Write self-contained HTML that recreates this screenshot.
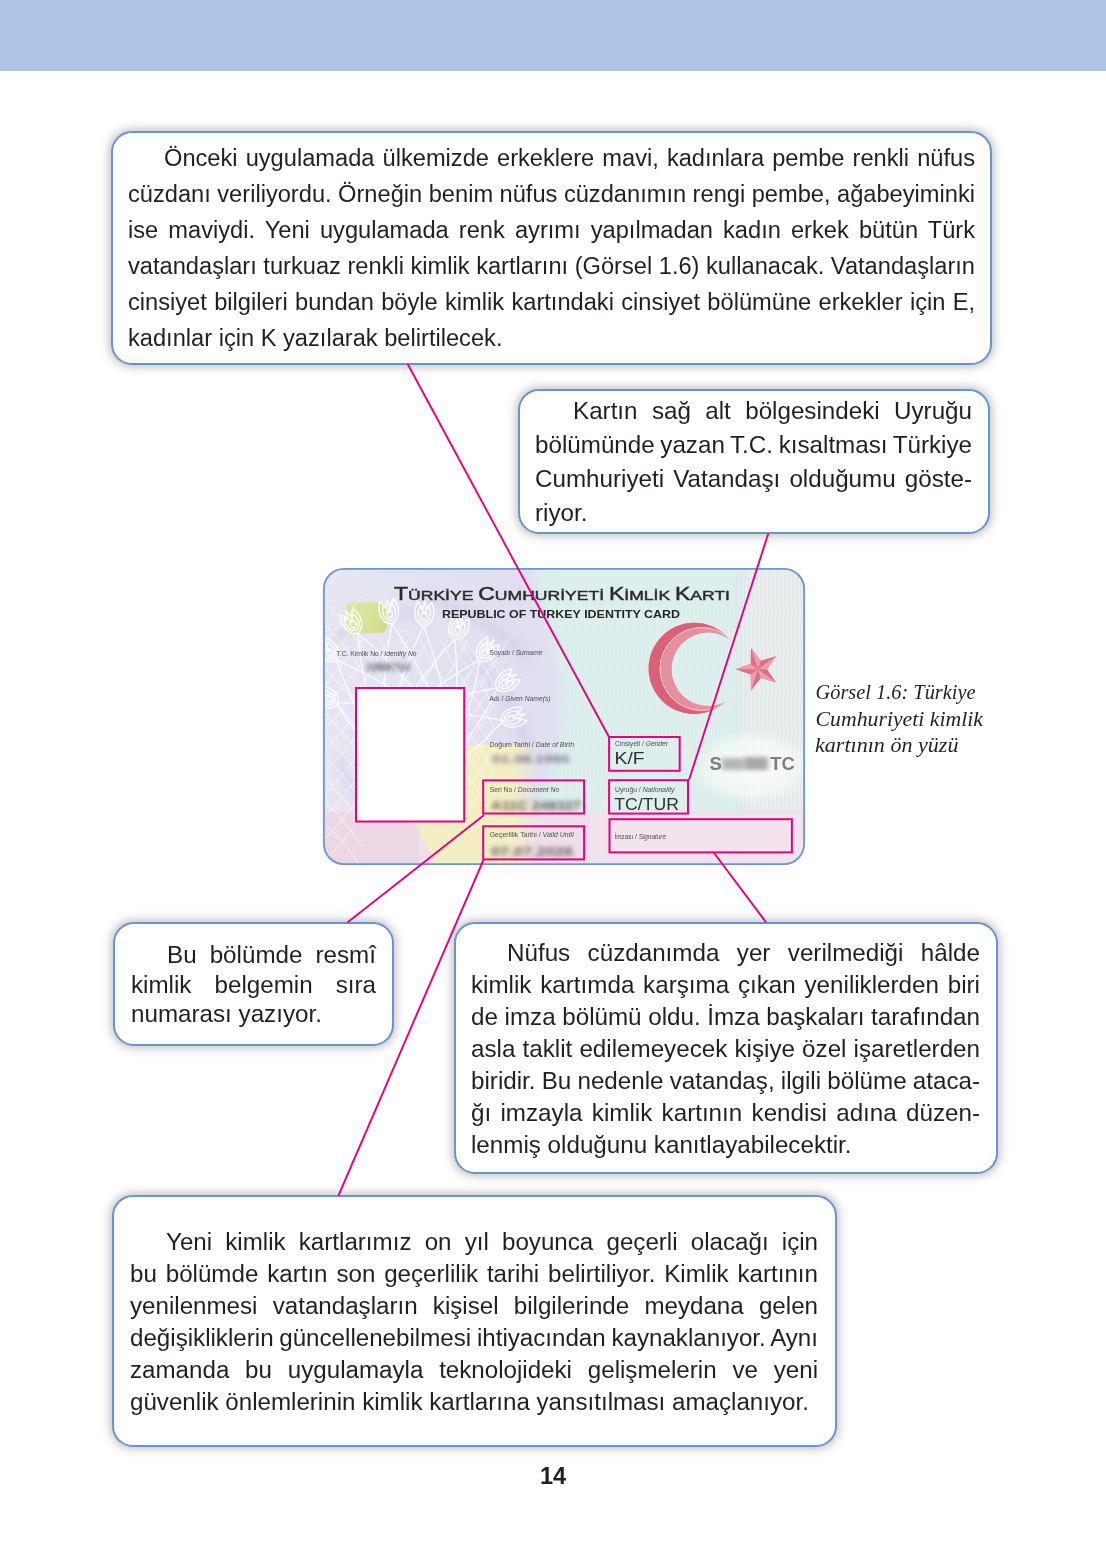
<!DOCTYPE html>
<html><head><meta charset="utf-8">
<style>
html,body{margin:0;padding:0;background:#fff;}
body{width:1106px;height:1560px;position:relative;overflow:hidden;font-family:"Liberation Sans",sans-serif;color:#231f20;}
.hdr{position:absolute;left:0;top:0;width:1106px;height:71px;background:#b0c4e5;}
.box{position:absolute;box-sizing:border-box;border:2px solid #6a94d0;border-radius:21px;background:#fff;box-shadow:0 0 10px 1.5px rgba(50,50,60,0.30);}
.txt{position:absolute;will-change:transform;}
.txt div{white-space:nowrap;}
.pn{will-change:transform;position:absolute;left:0;width:1106px;top:1461px;text-align:center;font-weight:bold;font-size:23.5px;line-height:30px;}
.cap{position:absolute;left:815px;top:676px;font-family:"Liberation Serif",serif;font-style:italic;font-size:21px;line-height:26.3px;color:#231f20;white-space:nowrap;}
</style></head><body>
<div class="hdr"></div>
<div class="box" style="left:110.5px;top:130.5px;width:881.5px;height:234.0px;"></div>
<div class="txt" style="left:127.5px;top:140.20px;width:847px;font-size:23.65px;line-height:36.0px;">
<div style="padding-left:36px;word-spacing:1.508px;">Önceki uygulamada ülkemizde erkeklere mavi, kadınlara pembe renkli nüfus</div>
<div style="word-spacing:-0.072px;">cüzdanı veriliyordu. Örneğin benim nüfus cüzdanımın rengi pembe, ağabeyiminki</div>
<div style="word-spacing:3.534px;">ise maviydi. Yeni uygulamada renk ayrımı yapılmadan kadın erkek bütün Türk</div>
<div style="word-spacing:-0.006px;">vatandaşları turkuaz renkli kimlik kartlarını (Görsel 1.6) kullanacak. Vatandaşların</div>
<div style="word-spacing:0.738px;">cinsiyet bilgileri bundan böyle kimlik kartındaki cinsiyet bölümüne erkekler için E,</div>
<div style="">kadınlar için K yazılarak belirtilecek.</div>
</div>
<div class="box" style="left:517.5px;top:389.0px;width:472.5px;height:144.6px;"></div>
<div class="txt" style="left:534.5px;top:394.06px;width:437px;font-size:24.2px;line-height:33.9px;">
<div style="padding-left:38px;word-spacing:7.648px;">Kartın sağ alt bölgesindeki Uyruğu</div>
<div style="word-spacing:-1.102px;">bölümünde yazan T.C. kısaltması Türkiye</div>
<div style="word-spacing:2.401px;">Cumhuriyeti Vatandaşı olduğumu göste-</div>
<div style="">riyor.</div>
</div>
<div class="box" style="left:113.0px;top:922.0px;width:281.0px;height:124.0px;"></div>
<div class="txt" style="left:131.0px;top:940.01px;width:245px;font-size:24.2px;line-height:29.6px;">
<div style="padding-left:36px;word-spacing:6.359px;">Bu bölümde resmî</div>
<div style="word-spacing:16.312px;">kimlik belgemin sıra</div>
<div style="">numarası yazıyor.</div>
</div>
<div class="box" style="left:453.8px;top:922.0px;width:544.2px;height:252.0px;"></div>
<div class="txt" style="left:471.0px;top:937.24px;width:509px;font-size:24.2px;line-height:31.95px;">
<div style="padding-left:36px;word-spacing:10.695px;">Nüfus cüzdanımda yer verilmediği hâlde</div>
<div style="word-spacing:2.062px;">kimlik kartımda karşıma çıkan yeniliklerden biri</div>
<div style="word-spacing:-0.094px;">de imza bölümü oldu. İmza başkaları tarafından</div>
<div style="word-spacing:0.434px;">asla taklit edilemeyecek kişiye özel işaretlerden</div>
<div style="word-spacing:-0.547px;">biridir. Bu nedenle vatandaş, ilgili bölüme ataca-</div>
<div style="word-spacing:2.602px;">ğı imzayla kimlik kartının kendisi adına düzen-</div>
<div style="">lenmiş olduğunu kanıtlayabilecektir.</div>
</div>
<div class="box" style="left:112.2px;top:1195.2px;width:724.6px;height:252.1px;"></div>
<div class="txt" style="left:129.5px;top:1226.03px;width:688px;font-size:24.15px;line-height:32.0px;">
<div style="padding-left:36px;word-spacing:6.475px;">Yeni kimlik kartlarımız on yıl boyunca geçerli olacağı için</div>
<div style="word-spacing:2.143px;">bu bölümde kartın son geçerlilik tarihi belirtiliyor. Kimlik kartının</div>
<div style="word-spacing:8.506px;">yenilenmesi vatandaşların kişisel bilgilerinde meydana gelen</div>
<div style="word-spacing:-0.996px;">değişikliklerin güncellenebilmesi ihtiyacından kaynaklanıyor. Aynı</div>
<div style="word-spacing:9.104px;">zamanda bu uygulamayla teknolojideki gelişmelerin ve yeni</div>
<div style="">güvenlik önlemlerinin kimlik kartlarına yansıtılması amaçlanıyor.</div>
</div>
<svg style="position:absolute;left:323px;top:568px;will-change:transform" width="482" height="297" viewBox="323 568 482 297">
<defs>
 <clipPath id="cc"><rect x="323.9" y="568.9" width="480.2" height="295.2" rx="20"/></clipPath>
 <linearGradient id="bg" x1="323" x2="805" y1="0" y2="0" gradientUnits="userSpaceOnUse">
   <stop offset="0" stop-color="#e7e6f1"/>
   <stop offset="0.40" stop-color="#e0def0"/>
   <stop offset="0.50" stop-color="#e0e1f0"/>
   <stop offset="0.53" stop-color="#e2eef0"/>
   <stop offset="0.60" stop-color="#daedeb"/>
   <stop offset="0.82" stop-color="#dcefed"/>
   <stop offset="0.88" stop-color="#e6eeee"/>
   <stop offset="1" stop-color="#eceeef"/>
 </linearGradient>
 <linearGradient id="yfade" x1="512" x2="540" y1="0" y2="0" gradientUnits="userSpaceOnUse">
   <stop offset="0" stop-color="#fff"/><stop offset="1" stop-color="#000"/>
 </linearGradient>
 <linearGradient id="chipg" x1="346" y1="602" x2="387" y2="633" gradientUnits="userSpaceOnUse"><stop offset="0" stop-color="#dfe6a6"/><stop offset="1" stop-color="#d2dc8e"/></linearGradient>
 <linearGradient id="pkg" x1="0" y1="808" x2="0" y2="866" gradientUnits="userSpaceOnUse"><stop offset="0" stop-color="#f0dfe9" stop-opacity="0"/><stop offset="0.12" stop-color="#f0dfe9" stop-opacity="1"/><stop offset="1" stop-color="#efdde8"/></linearGradient>
 <mask id="ym"><rect x="323" y="568" width="482" height="297" fill="url(#yfade)"/></mask>
 <mask id="cm"><rect x="600" y="600" width="200" height="140" fill="#fff"/><circle cx="708.3" cy="669.3" r="36.7" fill="#000"/></mask>
 <mask id="cm2"><rect x="600" y="600" width="200" height="140" fill="#fff"/><circle cx="701.5" cy="669" r="41.5" fill="#000"/></mask>
 <pattern id="wav" width="4" height="40" patternUnits="userSpaceOnUse">
   <path d="M1 0 Q2.5 10 1 20 Q-0.5 30 1 40" stroke="#ffffff" stroke-width="0.8" fill="none" opacity="0.22"/>
 </pattern>
 <pattern id="wavg" width="4" height="40" patternUnits="userSpaceOnUse">
   <path d="M1 0 Q2.5 10 1 20 Q-0.5 30 1 40" stroke="#c9c9cf" stroke-width="0.8" fill="none" opacity="0.35"/>
 </pattern>
 <radialGradient id="glow" cx="752" cy="767" r="62" gradientUnits="userSpaceOnUse" gradientTransform="translate(752 767) scale(1 0.62) translate(-752 -767)">
   <stop offset="0" stop-color="#ffffff" stop-opacity="0.85"/>
   <stop offset="0.65" stop-color="#ffffff" stop-opacity="0.55"/>
   <stop offset="1" stop-color="#ffffff" stop-opacity="0"/>
 </radialGradient>
 <filter id="bt" x="-20%" y="-80%" width="140%" height="260%"><feGaussianBlur stdDeviation="2.6 2.0"/></filter>
 <filter id="b2" x="-20%" y="-60%" width="140%" height="220%"><feGaussianBlur stdDeviation="2.0"/></filter>
 <filter id="b6" x="-50%" y="-50%" width="200%" height="200%"><feGaussianBlur stdDeviation="5"/></filter>
</defs>
<g clip-path="url(#cc)">
 <rect x="323" y="568" width="482" height="297" fill="url(#bg)"/>
 <path d="M528 560 L820 560 L820 870 L540 870 L528 815 L545 790 L562 740 L562 680 L548 620 Z" fill="#dbeeeb" filter="url(#b6)"/>
 <path d="M745 560 L820 560 L820 870 L745 870 Q735 760 745 560 Z" fill="#ebeef0" filter="url(#b6)" opacity="0.85"/>
 <rect x="560" y="568" width="180" height="250" fill="url(#wav)"/>
 <rect x="735" y="568" width="70" height="297" fill="url(#wavg)"/>
 <g fill="none" stroke="#c9c5e2" stroke-width="7" opacity="0.55" filter="url(#b6)">
  <path d="M420 596 Q480 610 530 660"/>
  <path d="M335 640 Q380 610 430 612"/>
  <path d="M470 660 Q520 700 530 760"/>
  <path d="M340 760 Q350 800 380 815"/>
 </g>
 <!-- pink band -->
 <rect x="323" y="808" width="482" height="58" fill="url(#pkg)"/>
 <rect x="323" y="812" width="95" height="54" fill="#e9cfe0" opacity="0.45"/>
 <rect x="590" y="814" width="215" height="52" fill="#f2e3ec" opacity="0.8"/>
 <!-- yellow -->
 <g mask="url(#ym)"><path d="M437 866 L414 822 Q418 758 470 745 L545 745 L545 866 Z" fill="#f4eec3"/></g>
 <!-- chip -->
 <rect x="346" y="602.5" width="41" height="30.5" rx="6" fill="url(#chipg)"/>
 <!-- ornament -->
 <g fill="none" stroke="#ffffff" stroke-width="1.4" opacity="0.8">
  
  <g opacity="0.6" stroke-width="1.1"><path d="M318 596 Q340 616 362 648"/><path d="M318 648 Q340 626 362 596"/><path d="M318 618 Q340 638 362 670"/><path d="M318 670 Q340 648 362 618"/><path d="M318 640 Q340 660 362 692"/><path d="M318 692 Q340 670 362 640"/><path d="M318 662 Q340 682 362 714"/><path d="M318 714 Q340 692 362 662"/><path d="M318 684 Q340 704 362 736"/><path d="M318 736 Q340 714 362 684"/><path d="M318 706 Q340 726 362 758"/><path d="M318 758 Q340 736 362 706"/><path d="M318 728 Q340 748 362 780"/><path d="M318 780 Q340 758 362 728"/><path d="M318 750 Q340 770 362 802"/><path d="M318 802 Q340 780 362 750"/><path d="M318 772 Q340 792 362 824"/><path d="M318 824 Q340 802 362 772"/><path d="M318 794 Q340 814 362 846"/><path d="M318 846 Q340 824 362 794"/><path d="M318 816 Q340 836 362 868"/><path d="M318 868 Q340 846 362 816"/><path d="M462 638 Q478 656 494 684"/><path d="M462 684 Q478 666 494 638"/><path d="M462 660 Q478 678 494 706"/><path d="M462 706 Q478 688 494 660"/><path d="M462 682 Q478 700 494 728"/><path d="M462 728 Q478 710 494 682"/><path d="M462 704 Q478 722 494 750"/><path d="M462 750 Q478 732 494 704"/><path d="M462 726 Q478 744 494 772"/><path d="M462 772 Q478 754 494 726"/><path d="M462 748 Q478 766 494 794"/><path d="M462 794 Q478 776 494 748"/><path d="M462 770 Q478 788 494 816"/><path d="M462 816 Q478 798 494 770"/><path d="M360 640 Q372 662 388 688"/><path d="M388 640 Q376 662 360 688"/><path d="M380 640 Q392 662 408 688"/><path d="M408 640 Q396 662 380 688"/><path d="M400 640 Q412 662 428 688"/><path d="M428 640 Q416 662 400 688"/><path d="M420 640 Q432 662 448 688"/><path d="M448 640 Q436 662 420 688"/><path d="M440 640 Q452 662 468 688"/><path d="M468 640 Q456 662 440 688"/><path d="M460 640 Q472 662 488 688"/><path d="M488 640 Q476 662 460 688"/><path d="M480 640 Q492 662 508 688"/><path d="M508 640 Q496 662 480 688"/></g>
  <path d="M357.8 633.3 Q363.3 691.1 381.8 743.6"/><path d="M357.8 633.3 Q402.3 670.7 435.0 715.8"/><path d="M391.7 623.9 Q381.1 680.0 384.5 734.4"/><path d="M391.7 623.9 Q424.1 670.8 443.1 722.0"/><path d="M423.6 625.8 Q399.3 675.5 388.9 727.1"/><path d="M423.6 625.8 Q443.3 677.5 448.9 729.9"/><path d="M454.7 639.0 Q418.6 677.2 395.4 721.0"/><path d="M454.7 639.0 Q460.3 691.2 452.3 740.2"/><path d="M480.0 659.6 Q436.3 683.7 403.3 716.7"/><path d="M480.0 659.6 Q472.3 708.9 452.5 751.1"/><path d="M497.9 687.8 Q451.5 695.2 412.7 714.4"/><path d="M497.9 687.8 Q478.0 730.4 448.8 762.4"/><path d="M503.5 720.7 Q461.4 711.1 422.5 715.1"/><path d="M503.5 720.7 Q474.7 753.0 440.8 772.2"/><path d="M336.2 659.6 Q354.0 711.2 382.9 754.3"/><path d="M336.2 659.6 Q386.3 681.4 427.0 713.5"/><path d="M336.2 702.9 Q359.5 740.9 390.5 767.1"/><path d="M336.2 702.9 Q380.8 702.3 419.4 714.5"/>
  <g transform="translate(354.0 626.0) rotate(-27.7) scale(1.15)"><path d="M0 7 C-9 5 -10 -7 -6 -14 L-1.5 -8 L0 -15 L1.5 -8 L6 -14 C10 -7 9 5 0 7Z"/><path d="M0 4 C-6 3 -6.5 -5 -4 -9.5 L0 -5 L4 -9.5 C6.5 -5 6 3 0 4Z"/><path d="M0 1.5 C-3 1 -3 -3 -1.5 -5 L0 -3.5 L1.5 -5 C3 -3 3 1 0 1.5Z"/></g><g transform="translate(390.0 616.0) rotate(-12.0) scale(1.15)"><path d="M0 7 C-9 5 -10 -7 -6 -14 L-1.5 -8 L0 -15 L1.5 -8 L6 -14 C10 -7 9 5 0 7Z"/><path d="M0 4 C-6 3 -6.5 -5 -4 -9.5 L0 -5 L4 -9.5 C6.5 -5 6 3 0 4Z"/><path d="M0 1.5 C-3 1 -3 -3 -1.5 -5 L0 -3.5 L1.5 -5 C3 -3 3 1 0 1.5Z"/></g><g transform="translate(424.0 618.0) rotate(2.6) scale(1.15)"><path d="M0 7 C-9 5 -10 -7 -6 -14 L-1.5 -8 L0 -15 L1.5 -8 L6 -14 C10 -7 9 5 0 7Z"/><path d="M0 4 C-6 3 -6.5 -5 -4 -9.5 L0 -5 L4 -9.5 C6.5 -5 6 3 0 4Z"/><path d="M0 1.5 C-3 1 -3 -3 -1.5 -5 L0 -3.5 L1.5 -5 C3 -3 3 1 0 1.5Z"/></g><g transform="translate(457.0 632.0) rotate(18.6) scale(1.15)"><path d="M0 7 C-9 5 -10 -7 -6 -14 L-1.5 -8 L0 -15 L1.5 -8 L6 -14 C10 -7 9 5 0 7Z"/><path d="M0 4 C-6 3 -6.5 -5 -4 -9.5 L0 -5 L4 -9.5 C6.5 -5 6 3 0 4Z"/><path d="M0 1.5 C-3 1 -3 -3 -1.5 -5 L0 -3.5 L1.5 -5 C3 -3 3 1 0 1.5Z"/></g><g transform="translate(484.0 654.0) rotate(35.1) scale(1.15)"><path d="M0 7 C-9 5 -10 -7 -6 -14 L-1.5 -8 L0 -15 L1.5 -8 L6 -14 C10 -7 9 5 0 7Z"/><path d="M0 4 C-6 3 -6.5 -5 -4 -9.5 L0 -5 L4 -9.5 C6.5 -5 6 3 0 4Z"/><path d="M0 1.5 C-3 1 -3 -3 -1.5 -5 L0 -3.5 L1.5 -5 C3 -3 3 1 0 1.5Z"/></g><g transform="translate(503.0 684.0) rotate(53.0) scale(1.15)"><path d="M0 7 C-9 5 -10 -7 -6 -14 L-1.5 -8 L0 -15 L1.5 -8 L6 -14 C10 -7 9 5 0 7Z"/><path d="M0 4 C-6 3 -6.5 -5 -4 -9.5 L0 -5 L4 -9.5 C6.5 -5 6 3 0 4Z"/><path d="M0 1.5 C-3 1 -3 -3 -1.5 -5 L0 -3.5 L1.5 -5 C3 -3 3 1 0 1.5Z"/></g><g transform="translate(509.0 719.0) rotate(72.3) scale(1.15)"><path d="M0 7 C-9 5 -10 -7 -6 -14 L-1.5 -8 L0 -15 L1.5 -8 L6 -14 C10 -7 9 5 0 7Z"/><path d="M0 4 C-6 3 -6.5 -5 -4 -9.5 L0 -5 L4 -9.5 C6.5 -5 6 3 0 4Z"/><path d="M0 1.5 C-3 1 -3 -3 -1.5 -5 L0 -3.5 L1.5 -5 C3 -3 3 1 0 1.5Z"/></g><g transform="translate(331.0 654.0) rotate(-42.8) scale(1.15)"><path d="M0 7 C-9 5 -10 -7 -6 -14 L-1.5 -8 L0 -15 L1.5 -8 L6 -14 C10 -7 9 5 0 7Z"/><path d="M0 4 C-6 3 -6.5 -5 -4 -9.5 L0 -5 L4 -9.5 C6.5 -5 6 3 0 4Z"/><path d="M0 1.5 C-3 1 -3 -3 -1.5 -5 L0 -3.5 L1.5 -5 C3 -3 3 1 0 1.5Z"/></g><g transform="translate(331.0 700.0) rotate(-61.1) scale(1.15)"><path d="M0 7 C-9 5 -10 -7 -6 -14 L-1.5 -8 L0 -15 L1.5 -8 L6 -14 C10 -7 9 5 0 7Z"/><path d="M0 4 C-6 3 -6.5 -5 -4 -9.5 L0 -5 L4 -9.5 C6.5 -5 6 3 0 4Z"/><path d="M0 1.5 C-3 1 -3 -3 -1.5 -5 L0 -3.5 L1.5 -5 C3 -3 3 1 0 1.5Z"/></g>
 </g>
 <!-- title -->
 <text x="394" y="600" font-family="Liberation Sans" font-size="17.8" fill="#2b2b2b" stroke="#2b2b2b" stroke-width="0.45" textLength="336" lengthAdjust="spacingAndGlyphs">T<tspan font-size="13.6">ÜRKİYE </tspan>C<tspan font-size="13.6">UMHURİYETİ </tspan>K<tspan font-size="13.6">İMLİK </tspan>K<tspan font-size="13.6">ARTI</tspan></text>
 <text x="442" y="617.7" font-family="Liberation Sans" font-weight="bold" font-size="11.8" fill="#262626" textLength="238" lengthAdjust="spacingAndGlyphs">REPUBLIC OF TURKEY IDENTITY CARD</text>
 <!-- crescent -->
 <g mask="url(#cm)">
  <circle cx="694.2" cy="668.4" r="45.6" fill="#e68f9e"/>
  <g mask="url(#cm2)"><circle cx="694.2" cy="668.4" r="45.6" fill="#dc6178"/></g>
 </g>
 <circle cx="701.5" cy="669" r="41.5" fill="none" stroke="#f6d9de" stroke-width="0.9" mask="url(#cm)"/>
 <!-- star -->
 <polygon points="735.5,669.3 750.7,664.0 751.0,647.9 760.8,660.7 776.2,656.1 767.0,669.3 776.2,682.5 760.8,677.9 751.0,690.7 750.7,674.6" fill="#df6f85"/>
 <polygon points="758,669.3 735.5,669.3 750.7,664.0" fill="#eb9eac"/><polygon points="758,669.3 751.0,647.9 760.8,660.7" fill="#eb9eac"/><polygon points="758,669.3 776.2,656.1 767.0,669.3" fill="#eb9eac"/><polygon points="758,669.3 776.2,682.5 760.8,677.9" fill="#eb9eac"/><polygon points="758,669.3 751.0,690.7 750.7,674.6" fill="#eb9eac"/>
 <!-- glow -->
 <ellipse cx="752" cy="766" rx="62" ry="40" fill="url(#glow)"/>
 <!-- labels -->
 <g font-family="Liberation Sans" font-size="7.6" fill="#4f4c55">
  <text x="336.5" y="656" textLength="80" lengthAdjust="spacingAndGlyphs">T.C. Kimlik No / <tspan font-style="italic">Identity No</tspan></text>
  <text x="489.5" y="655" textLength="53" lengthAdjust="spacingAndGlyphs">Soyadı / <tspan font-style="italic">Surname</tspan></text>
  <text x="489.5" y="700.5" textLength="61" lengthAdjust="spacingAndGlyphs">Adı / <tspan font-style="italic">Given Name(s)</tspan></text>
  <text x="489.5" y="746.5" textLength="84.5" lengthAdjust="spacingAndGlyphs">Doğum Tarihi / <tspan font-style="italic">Date of Birth</tspan></text>
  <text x="489.7" y="791.5" textLength="69.5" lengthAdjust="spacingAndGlyphs">Seri No / <tspan font-style="italic">Document No</tspan></text>
  <text x="489.7" y="837.2" textLength="84" lengthAdjust="spacingAndGlyphs">Geçerlilik Tarihi / <tspan font-style="italic">Valid Until</tspan></text>
  <text x="615" y="746" textLength="53" lengthAdjust="spacingAndGlyphs">Cinsiyeti / <tspan font-style="italic">Gender</tspan></text>
  <text x="615" y="791.8" textLength="59.5" lengthAdjust="spacingAndGlyphs">Uyruğu / <tspan font-style="italic">Nationality</tspan></text>
  <text x="614.5" y="838.8" textLength="51.5" lengthAdjust="spacingAndGlyphs">İmzası / <tspan font-style="italic">Signature</tspan></text>
 </g>
 <!-- blurred values -->
 <g font-family="Liberation Sans" font-weight="bold" filter="url(#bt)">
  <text x="366" y="671" font-size="11.5" fill="#5d5a66" textLength="44" lengthAdjust="spacingAndGlyphs">1968714</text>
  <text x="492" y="762.5" font-size="11.5" fill="#7a7a8e" textLength="78" lengthAdjust="spacingAndGlyphs">01.08.1995</text>
  <text x="491" y="810" font-size="12.5" fill="#5f5f52" textLength="90" lengthAdjust="spacingAndGlyphs">A11C 248327</text>
  <text x="491" y="855.5" font-size="12" fill="#6a5f72" textLength="82" lengthAdjust="spacingAndGlyphs">07.07.2026</text>
  
 </g>
 <g filter="url(#bt)" fill="#9a9a9a"><rect x="722" y="758" width="21" height="12" opacity="0.7"/><rect x="744" y="757" width="24" height="13" opacity="0.85"/></g>
 <text x="709.5" y="770.4" font-family="Liberation Sans" font-weight="bold" font-size="18.5" fill="#7e7e7e">S</text>
 <text x="770.3" y="770.4" font-family="Liberation Sans" font-weight="bold" font-size="18.5" fill="#7e7e7e" textLength="24.4" lengthAdjust="spacingAndGlyphs">TC</text>
 <text x="614.6" y="763.6" font-family="Liberation Sans" font-size="16" fill="#303030" textLength="30" lengthAdjust="spacingAndGlyphs">K/F</text>
 <text x="614.3" y="809.7" font-family="Liberation Sans" font-size="17.2" fill="#303030" textLength="64.6" lengthAdjust="spacingAndGlyphs">TC/TUR</text>
 <!-- photo -->
 <rect x="356" y="688" width="108.2" height="133.5" fill="#ffffff" stroke="#e6007e" stroke-width="2"/>
 <g fill="none" stroke="#e6007e" stroke-width="2">
  <rect x="483.2" y="780.4" width="100.9" height="33.1"/>
  <rect x="483.2" y="826.3" width="100.9" height="33.1"/>
  <rect x="609.1" y="737" width="70.6" height="33.8"/>
  <rect x="609.1" y="780.2" width="78.9" height="33.4"/>
  <rect x="609.5" y="819.2" width="182.4" height="33.2"/>
 </g>
</g>
<rect x="323.9" y="568.9" width="480.2" height="295.2" rx="20" fill="none" stroke="#6b95d3" stroke-width="1.8"/>
</svg>
<svg style="position:absolute;left:800px;top:670px;will-change:transform" width="200" height="100" viewBox="800 670 200 100">
<g font-family="Liberation Serif" font-style="italic" font-size="21.5" fill="#231f20" lengthAdjust="spacingAndGlyphs">
<text x="815.5" y="699" textLength="160" lengthAdjust="spacingAndGlyphs">Görsel 1.6: Türkiye</text>
<text x="815.5" y="725.6" textLength="167.5" lengthAdjust="spacingAndGlyphs">Cumhuriyeti kimlik</text>
<text x="815" y="751.9" textLength="143.5" lengthAdjust="spacingAndGlyphs">kartının ön yüzü</text>
</g></svg>
<div class="pn">14</div>
<svg style="position:absolute;left:0;top:0" width="1106" height="1560" viewBox="0 0 1106 1560">
<g stroke="#e6007e" stroke-width="1.9" fill="none">
<line x1="407.4" y1="363.5" x2="609" y2="737"/>
<line x1="768.3" y1="533.5" x2="689" y2="780"/>
<line x1="484.1" y1="815" x2="347.4" y2="922.5"/>
<line x1="483.5" y1="860" x2="338.5" y2="1195.5"/>
<line x1="713.7" y1="852.5" x2="766.2" y2="922.5"/>
</g>
</svg>
</body></html>
